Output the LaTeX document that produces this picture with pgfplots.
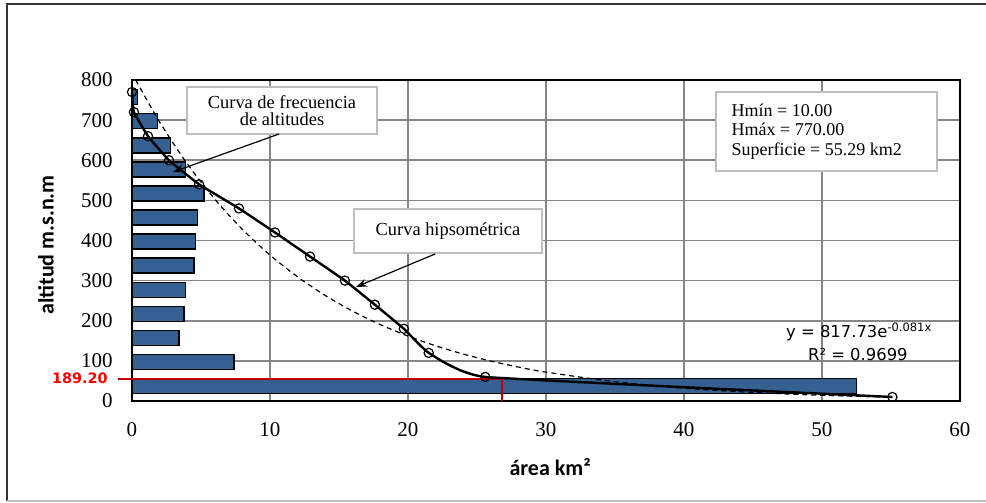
\documentclass[border=0pt]{standalone}
\usepackage{fontspec}
\setmainfont{Liberation Serif}
\newfontfamily\carlito{Carlito}
\newfontfamily\dejavu{DejaVu Sans}
\usepackage{pgfplots}
\pgfplotsset{compat=1.18}
\usetikzlibrary{arrows.meta}
\definecolor{barblue}{RGB}{54,96,146}
\definecolor{redline}{RGB}{192,0,0}
\definecolor{gridgray}{RGB}{134,134,134}
\definecolor{boxgray}{RGB}{190,190,190}
\begin{document}
\begin{tikzpicture}
\useasboundingbox (-66pt,-51pt) rectangle (427pt,200.5pt);
\draw[black!80, line width=0.8pt] (-62.5pt,-50pt) -- (-62.5pt,198.5pt) -- (427pt,198.5pt);
\draw[black!25, line width=0.8pt] (-62.5pt,-50pt) -- (427pt,-50pt);
\begin{axis}[
  at={(0,0)}, anchor=south west, scale only axis,
  width=414pt, height=160.5pt,
  xmin=0, xmax=60, ymin=0, ymax=800,
  xtick={0,10,...,60}, ytick={0,100,...,800},
  grid=major, major grid style={gridgray, line width=0.8pt},
  axis line style={black, line width=0.9pt},
  major tick length=0pt,
  clip=false,
  /pgf/number format/assume math mode=true,
  tick label style={font=\fontsize{10.5}{12}\selectfont},
  xticklabel style={anchor=center, yshift=-14.5pt},
  yticklabel style={anchor=east, inner sep=0pt, xshift=-9.5pt},
  xlabel={área km²}, ylabel={altitud m.s.n.m},
  label style={font=\carlito\bfseries\fontsize{11}{13}\selectfont},
  xlabel style={at={(axis description cs:0.505,-0.2056)}, anchor=center},
  ylabel style={at={(axis description cs:-0.1039,0.486)}, anchor=center},
]
\addplot[xbar, bar width=7.5pt, fill=barblue, draw=black, line width=0.6pt] coordinates {
 (52.5,37) (7.39,97.9) (3.41,157.8) (3.77,217.7) (3.89,277.6) (4.49,337.5) (4.62,397.4)
 (4.73,457.3) (5.22,517.2) (3.89,577.1) (2.80,637) (1.86,696.9) (0.38,756.8)};
\addplot[redline, line width=1pt] coordinates {(-1,56) (26.8,56) (26.8,0)};
\addplot[black, line width=0.6pt, smooth, dash pattern=on 2.5pt off 2pt] coordinates {
 (0.27,800) (2,695.4) (4,591.4) (6,503.0) (8,427.8) (10,363.8) (12,309.4) (14,263.1)
 (16,223.7) (18,190.3) (20,161.8) (22,137.6) (24,117.0) (26,99.5) (28,84.6) (30,72.0)
 (35,48.0) (40,32.0) (45,21.4) (50,14.2) (55.1,9.4)};
\addplot[black, line width=1.2pt, smooth, tension=0.2, mark=o, mark size=2.3pt, mark options={line width=0.6pt, solid}] coordinates {
 (0,770) (0.14,720) (1.16,660) (2.68,600) (4.86,540) (7.75,480) (10.36,420) (12.9,360)
 (15.43,300) (17.6,240) (19.7,180) (21.5,120) (25.6,60) (55.1,10)};
\node[draw=boxgray, fill=white, line width=0.8pt, minimum width=95pt, minimum height=23.5pt, align=center, inner sep=0pt, font=\fontsize{9.2}{8.6}\selectfont] at (axis cs:10.87,724) {Curva de frecuencia\\de altitudes};
\draw[-{Stealth[length=5.5pt,width=4pt]}, line width=0.6pt] (axis cs:10.65,665.4) -- (axis cs:2.97,570.7);
\node[draw=boxgray, fill=white, line width=0.8pt, minimum width=94pt, minimum height=22pt, inner sep=0pt, font=\fontsize{9.2}{10}\selectfont] at (axis cs:22.9,423.7) {Curva hipsométrica};
\draw[-{Stealth[length=5.5pt,width=4pt]}, line width=0.6pt] (axis cs:21.96,366.4) -- (axis cs:16.23,284.1);
\node[draw=boxgray, fill=white, line width=0.8pt, minimum width=110.5pt, minimum height=39.5pt, inner sep=0pt] (hb) at (axis cs:50.33,671.7) {};
\node[anchor=west, align=left, inner sep=0pt, font=\fontsize{9}{9.6}\selectfont] at ([xshift=8pt]hb.west) {Hmín = 10.00\\Hmáx = 770.00\\Superficie = 55.29 km2};
\node[anchor=base, inner sep=0pt, font=\dejavu\fontsize{8.2}{9}\selectfont] at (axis cs:52.7,159.5) {y = 817.73e\textsuperscript{-0.081x}};
\node[anchor=base, inner sep=0pt, font=\dejavu\fontsize{8.2}{9}\selectfont] at (axis cs:52.6,99.7) {R² = 0.9699};
\node[anchor=east, text=red, inner sep=0pt, font=\dejavu\bfseries\fontsize{7.2}{8}\selectfont] at (axis cs:-1.74,56) {189.20};
\end{axis}
\end{tikzpicture}
\end{document}
